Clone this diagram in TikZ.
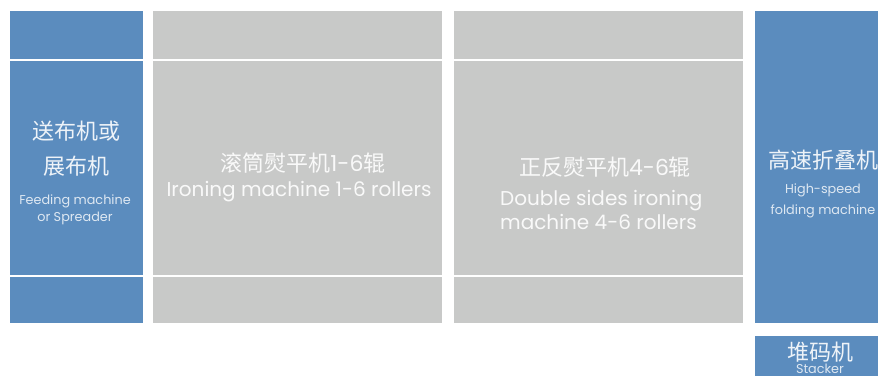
\documentclass[tikz,border=0pt]{standalone}
\usepackage{fontspec}
\setmainfont{Poppins}
\newfontfamily\cjk{Noto Sans CJK SC}
\usepackage{tikz}
\definecolor{panelblue}{RGB}{91,140,190}
\definecolor{panelgray}{RGB}{200,201,200}
\tikzset{
  big/.style={text=white, text opacity=0.9, font=\cjk\fontsize{22}{24}\selectfont, inner sep=0pt},
  mid/.style={text=white, text opacity=0.9, font=\fontsize{20}{24}\selectfont, inner sep=0pt},
  small/.style={text=white, text opacity=0.8, font=\fontsize{12.8}{17}\selectfont, inner sep=0pt, align=center}
}
\def\panel[#1](#2,#3){\fill[#1] (#2, 11) rectangle (#3, 323);
  \draw[white, line width=1.3pt] (#2, 60) -- (#3, 60);
  \draw[white, line width=1.3pt] (#2, 276) -- (#3, 276);}

\begin{document}
\begin{tikzpicture}[x=1pt, y=-1pt]
			%%%%% START %%%%%
			\useasboundingbox (0, 0) rectangle (878, 376);

			\panel[panelblue](10, 143)
			\panel[panelgray](153, 442)
			\panel[panelgray](454, 743)
			\fill[panelblue] (755, 11) rectangle (878, 323);
			\fill[panelblue] (755, 336) rectangle (878, 376);

			\node[big] (feedcn1) at (76, 131) {送布机或};
			\node[big] (feedcn2) at (76, 166) {展布机};
			\node[small] (feeden) at (75, 210) {Feeding machine\\or Spreader};

			\node[big] (ironcn) at (303, 163) {滚筒熨平机{\fontspec{Poppins}1-6}辊};
			\node[mid] (ironen) at (299, 192) {Ironing machine 1-6 rollers};

			\node[big] (doublecn) at (605, 167) {正反熨平机{\fontspec{Poppins}4-6}辊};
			\node[mid, align=left, anchor=west] (doubleen) at (500, 210) {Double sides ironing\\machine 4-6 rollers};

			\node[big, anchor=west] (foldcn) at (768, 160) {高速折叠机};
			\node[small, font=\fontsize{12.8}{21}\selectfont] (folden) at (823, 201) {High-speed\\folding machine};

			\node[big] (stackcn) at (820, 352) {堆码机};
			\node[small] (stacken) at (820, 369) {Stacker};
			%%%%% END %%%%%
\end{tikzpicture}
\end{document}
